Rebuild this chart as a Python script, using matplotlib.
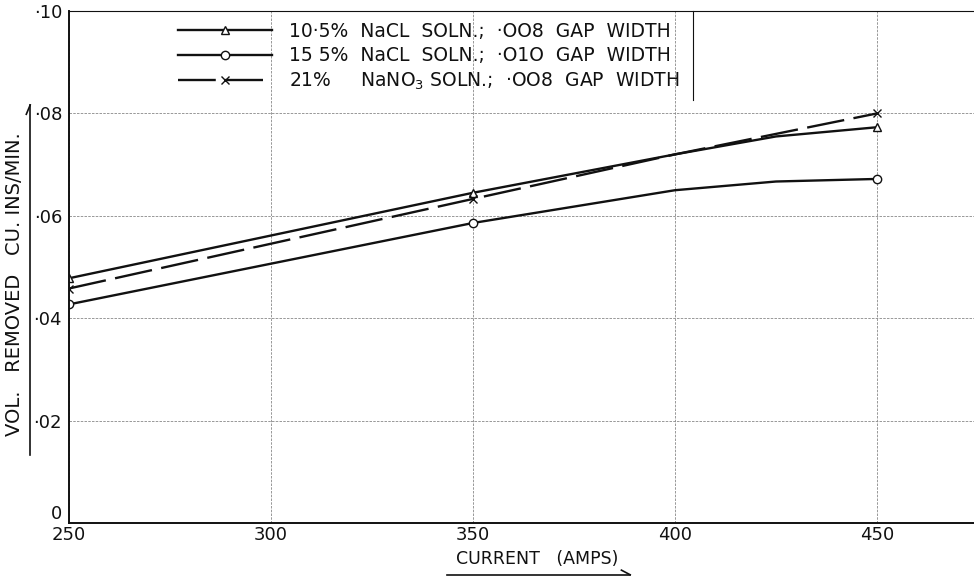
import matplotlib
matplotlib.use("Agg")
import matplotlib.pyplot as plt

# readings (amps vs cu.ins/min)
amps_a = [250, 350, 400, 425, 450]
nacl_105 = [0.0478, 0.0645, 0.0720, 0.0755, 0.0773]
amps_b = [250, 350, 400, 425, 450]
nacl_155 = [0.0427, 0.0586, 0.0650, 0.0667, 0.0672]
amps_c = [250, 350, 400, 450]
nano3_21 = [0.0458, 0.0633, 0.0720, 0.0800]

xticks = [250, 300, 350, 400, 450]
yticks = [0, 0.02, 0.04, 0.06, 0.08, 0.10]
ytick_labels = ["0", "·02", "·04", "·06", "·08", "·10"]
legend_labels = ["10·5%  NaCL  SOLN.;  ·OO8  GAP  WIDTH",
                 "15 5%  NaCL  SOLN.;  ·O1O  GAP  WIDTH",
                 "21%     NaNO$_3$ SOLN.;  ·OO8  GAP  WIDTH"]

plt.rcParams['font.family'] = ['DejaVu Sans']
fig = plt.figure(figsize=(9.74, 5.8), dpi=100)
ax = fig.add_axes([0.0708, 0.0983, 0.9292, 0.8827])

ink = "#111111"
l1, = ax.plot(amps_a, nacl_105, color=ink, lw=1.7, marker="^", ms=6,
              mfc="white", mec=ink, markevery=[0, 1, 4])
l2, = ax.plot(amps_b, nacl_155, color=ink, lw=1.7, marker="o", ms=6,
              mfc="white", mec=ink, markevery=[0, 1, 4])
l3, = ax.plot(amps_c, nano3_21, color=ink, lw=1.7, marker="x", ms=6,
              mec=ink, dashes=(16, 4), markevery=[0, 1, 3])

ax.set_xlim(250, 474)
ax.set_ylim(0, 0.10)
ax.set_xticks(xticks)
ax.set_yticks(yticks)
ax.set_yticklabels(ytick_labels)
ax.get_yticklabels()[0].set_va("bottom")
ax.tick_params(length=0, labelsize=13, colors=ink)
ax.tick_params(axis="x", pad=2)
ax.tick_params(axis="y", pad=5)
ax.grid(True, color="#888888", lw=0.6, ls=(0, (3, 1.5)))
ax.set_axisbelow(True)
for s in ["left", "bottom", "top"]:
    ax.spines[s].set_color(ink)
    ax.spines[s].set_linewidth(1.4)
ax.spines["top"].set_linewidth(0.8)
ax.spines["right"].set_visible(False)

# axis titles with underline arrows
fig.text(0.0154, 0.51, "VOL.   REMOVED   CU. INS/MIN.", rotation=90, ha="center",
         va="center", fontsize=14, color=ink)
fig.add_artist(plt.Line2D([0.031, 0.031], [0.216, 0.819], color=ink, lw=1.2))
fig.add_artist(plt.Line2D([0.027, 0.031], [0.803, 0.819], color=ink, lw=1.2))
fig.text(0.552, 0.036, "CURRENT   (AMPS)", ha="center", va="center",
         fontsize=12.5, color=ink)
fig.add_artist(plt.Line2D([0.459, 0.647], [0.009, 0.009], color=ink, lw=1.2))
fig.add_artist(plt.Line2D([0.638, 0.647], [0.017, 0.009], color=ink, lw=1.2))

leg = ax.legend([l1, l2, l3], legend_labels, loc="upper left",
                bbox_to_anchor=(0.102, 1.012), frameon=False, fontsize=13.5,
                handlelength=5.0, handletextpad=0.9, labelspacing=0.3)
for t in leg.get_texts():
    t.set_color(ink)
ax.plot([0.6895, 0.6895], [0.826, 1.0], transform=ax.transAxes, color=ink,
        lw=0.8, clip_on=False)

fig.savefig("out.png", dpi=100)
